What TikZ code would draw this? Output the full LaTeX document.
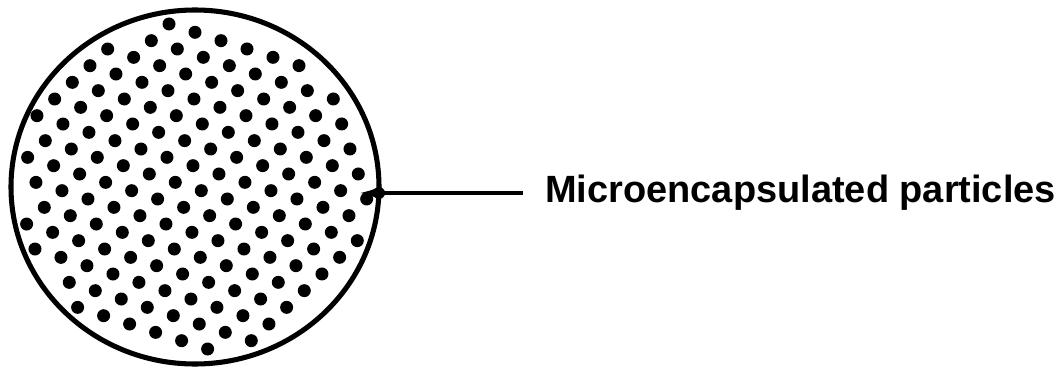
\documentclass[tikz,border=0pt]{standalone}
\usepackage{fontspec}
\setmainfont{Liberation Sans}
\usetikzlibrary{arrows.meta}

\begin{document}
\begin{tikzpicture}[x=0.025cm, y=0.025cm,
    particle/.style={fill=black},
    shell/.style={line width=3.6pt},
    leader/.style={line width=2.6pt, -{Latex[length=0.5cm, width=0.28cm]}, shorten <=0.55cm}]
    \useasboundingbox (0,0) rectangle (1064,369);
    \coordinate (centre) at (195,182);
    \draw[shell] (centre) ellipse [x radius=184, y radius=177];
    \foreach \i in {-12,...,10} {
        \foreach \j in {-4,...,18} {
            \pgfmathsetmacro\dotx{169+26*\i+8.33*\j}
            \pgfmathsetmacro\doty{24+8.33*\i+25*\j}
            \pgfmathsetmacro\dotd{((\dotx-195)/184)^2+((\doty-187)/177)^2}
            \ifdim\dotd pt<0.9025pt
                \fill[particle] (\dotx,369-\doty) circle [radius=6.5];
            \fi
        }
    }
    \node[anchor=west, inner sep=0pt, font=\bfseries\fontsize{27}{32}\selectfont] (label) at (545,176) {Microencapsulated particles};
    \coordinate (tip) at (358,176);
    \draw[leader] (label.west) -- (tip);
    \fill (379,176) circle [radius=6];
\end{tikzpicture}
\end{document}
